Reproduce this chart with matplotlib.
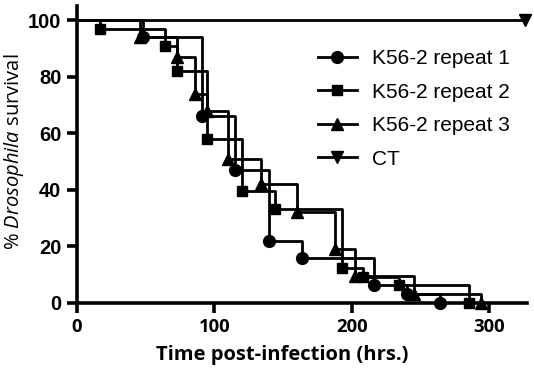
import numpy as np
import matplotlib
matplotlib.use('Agg')
from matplotlib import pyplot as plt

plt.rcParams['mathtext.fontset'] = 'custom'
plt.rcParams['mathtext.rm'] = 'Open Sans'
plt.rcParams['mathtext.it'] = 'Open Sans:italic'

# Kaplan-Meier steps (hrs, % survival)
t_rep1 = [0, 48, 91, 115, 140, 164, 216, 240, 264]
s_rep1 = [100, 94, 66, 47, 22, 16, 6.3, 3.2, 0]

t_rep2 = [0, 17, 64, 73, 95, 120, 144, 193, 208, 234, 285]
s_rep2 = [100, 97, 91, 82, 58, 39.5, 33, 12.2, 9.2, 6.3, 0]

t_rep3 = [0, 46, 73, 86, 95, 110, 134, 160, 188, 202, 245, 294]
s_rep3 = [100, 94, 87, 74, 68, 51, 42, 32, 19, 9.5, 3, 0]

t_ct = [0, 326]
s_ct = [100, 100]

labels = ['K56-2 repeat 1', 'K56-2 repeat 2', 'K56-2 repeat 3', 'CT']
x_ticks = [0, 100, 200, 300]
y_ticks = [0, 20, 40, 60, 80, 100]

W, H = 534, 375
my_dpi = 100
fig = plt.figure(figsize=(W/my_dpi, H/my_dpi), dpi=my_dpi)
x0, x1 = 76.7, 527.0
y0, y1 = 302.7, 6.0
ax = fig.add_axes([x0/W, 1-y0/H, (x1-x0)/W, (y0-y1)/H])

lw = 2.0
series = [(t_rep1, s_rep1, 'o', 8.5), (t_rep2, s_rep2, 's', 7.5),
          (t_rep3, s_rep3, '^', 8.5)]
handles = []
for (t, s, mk, ms), lab in zip(series, labels[:3]):
    l, = ax.plot(t, s, drawstyle='steps-post', color='k', lw=lw,
                 marker=mk, markersize=ms, markevery=list(range(1, len(t))),
                 clip_on=False, zorder=3, label=lab)
    handles.append(l)
l, = ax.plot(t_ct, s_ct, color='k', lw=lw, marker='v', markersize=8.5,
             markevery=[1], clip_on=False, zorder=3, label=labels[3])
handles.append(l)

ax.set_xlim(0, (x1-x0)/1.376)
ax.set_ylim(0, (y0-y1)/2.825)
ax.set_xticks(x_ticks)
ax.set_yticks(y_ticks)
for side in ['top', 'right']:
    ax.spines[side].set_visible(False)
for side in ['left', 'bottom']:
    ax.spines[side].set_linewidth(2.6)
ax.tick_params(axis='both', width=2.6, length=7, pad=4)
for lab in ax.get_xticklabels():
    lab.set_fontfamily('Open Sans')
    lab.set_fontweight('bold')
    lab.set_fontsize(13.3)
for lab in ax.get_yticklabels():
    lab.set_fontfamily('Liberation Sans')
    lab.set_fontweight('bold')
    lab.set_fontsize(14.5)

fig.text(282/W, 1-355/H, 'Time post-infection (hrs.)', ha='center', va='center',
         fontfamily='Open Sans', fontweight='bold', fontsize=14.5)
fig.text(14/W, 1-152/H, '% $\\it{Drosophila}$ survival', ha='center', va='center',
         rotation=90, fontfamily='Open Sans', fontsize=14.5)

leg = ax.legend(handles=handles, loc='upper left', frameon=False,
                bbox_to_anchor=(318/W, 1-49/H), bbox_transform=fig.transFigure,
                prop={'family': 'Liberation Sans', 'size': 15},
                handlelength=1.85, handletextpad=0.75, labelspacing=0.7,
                borderpad=0, borderaxespad=0)

fig.savefig('out.png', dpi=my_dpi)
